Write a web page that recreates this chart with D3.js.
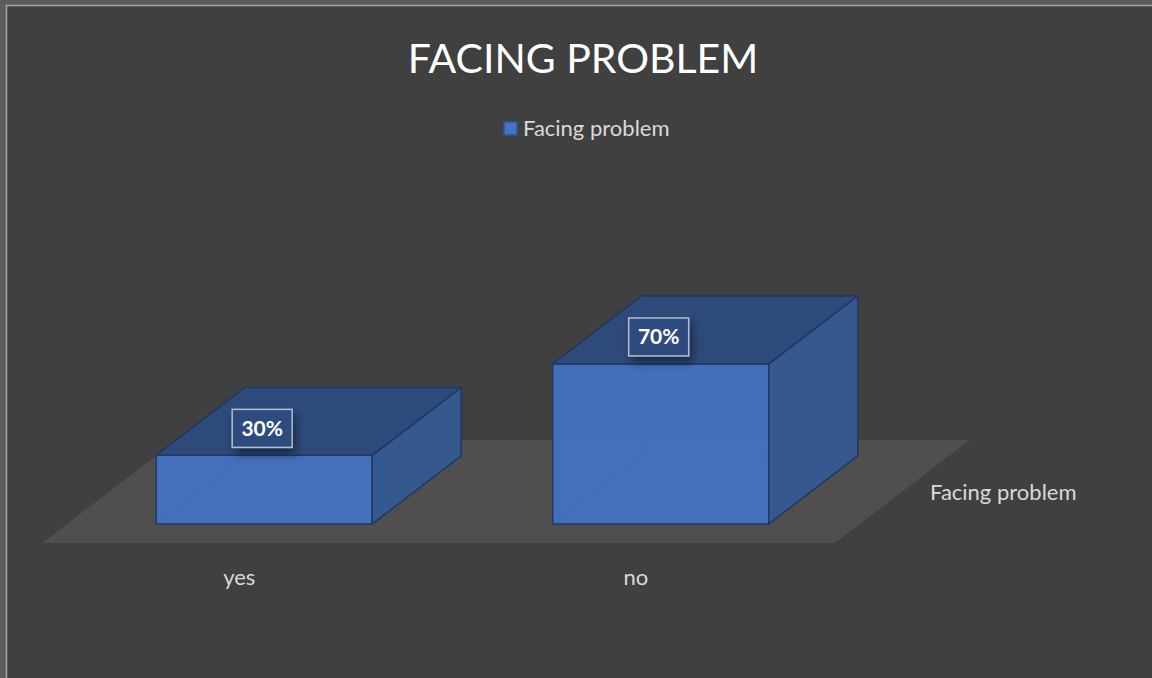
<!DOCTYPE html>
<html>
<head>
<meta charset="utf-8">
<script src="https://cdn.jsdelivr.net/npm/d3@7/dist/d3.min.js"></script>
<style>
  html, body { margin: 0; padding: 0; background: #404040; }
  svg { display: block; }
  text { font-family: Lato, "Open Sans", sans-serif; }
</style>
</head>
<body>
<svg id="chart" width="1152" height="678"></svg>
<script>
// Chart data
const chartTitle = "FACING PROBLEM";
const seriesName = "Facing problem";
const categories = ["yes", "no"];
const values = [30, 70];
const valueLabels = ["30%", "70%"];

const W = 1152, H = 678;
const svg = d3.select("#chart");

// Oblique 3D projection: x along categories, h = bar height, d = depth into the scene
const floorY = 543;          // front edge of the floor
const floorDepth = 103;      // vertical extent of the floor on screen
const skew = 89 / 68;        // horizontal shift per pixel of depth
const proj = (px, h, d) => [px + d * skew, floorY - d - h];

const x = d3.scaleBand()
  .domain(categories)
  .range([41, 834])
  .paddingInner(0.455)
  .paddingOuter(0.2275);

const y = d3.scaleLinear().domain([0, 70]).range([0, 160]);
const z = d3.scaleLinear().domain([0, 1]).range([0, floorDepth]);
const barFront = z(0.185), barBack = z(0.845);

// Outer frame
svg.append("rect").attr("width", W).attr("height", H).attr("fill", "#5c5c5c");
svg.append("rect").attr("x", 6.5).attr("y", 5.5).attr("width", W).attr("height", H)
  .attr("fill", "#404040").attr("stroke", "#a8a8a8").attr("stroke-width", 1.5);

// Shadow used under the value labels
const defs = svg.append("defs");
const f = defs.append("filter").attr("id", "lblShadow")
  .attr("x", "-50%").attr("y", "-50%").attr("width", "200%").attr("height", "200%");
f.append("feDropShadow").attr("dx", 3).attr("dy", 6).attr("stdDeviation", 5)
  .attr("flood-color", "#000").attr("flood-opacity", 0.45);

// Title
svg.append("text")
  .attr("x", 583).attr("y", 73)
  .attr("text-anchor", "middle")
  .attr("fill", "#ffffff")
  .attr("font-size", 41)
  .text(chartTitle);

// Legend
const legend = svg.append("g");
legend.append("rect")
  .attr("x", 504).attr("y", 122).attr("width", 13).attr("height", 13)
  .attr("fill", "#4472c4").attr("stroke", "#2f5597").attr("stroke-width", 1.5);
legend.append("text")
  .attr("x", 523).attr("y", 136)
  .attr("fill", "#d9d9d9").attr("font-size", 22)
  .text(seriesName);

// Floor
const floorPts = [proj(42, 0, 0), proj(835, 0, 0), proj(835, 0, floorDepth), proj(42, 0, floorDepth)];
svg.append("polygon")
  .attr("points", floorPts.map(p => p.join(",")).join(" "))
  .attr("fill", "#504e4e");

// Bars
const line = d3.line();
const bars = svg.append("g");
categories.forEach((c, i) => {
  const x0 = x(c), x1 = x(c) + x.bandwidth();
  const h = y(values[i]);
  const g = bars.append("g");
  const poly = (pts, fill, op) => g.append("path")
    .attr("d", line(pts) + "Z")
    .attr("fill", fill).attr("fill-opacity", op)
    .attr("stroke", "#203864").attr("stroke-width", 1.5)
    .attr("stroke-linejoin", "round");

  // front face
  poly([proj(x0, 0, barFront), proj(x1, 0, barFront), proj(x1, h, barFront), proj(x0, h, barFront)], "#4472c4", 0.93);

  // hidden back edges, faintly visible through the front face
  const back = [proj(x0, 0, barFront), proj(x0, 0, barBack), proj(x1, 0, barBack)];
  g.append("path").attr("d", line(back)).attr("fill", "none")
    .attr("stroke", "#3a65b0").attr("stroke-width", 1).attr("stroke-opacity", 0.35);
  g.append("path").attr("d", line([proj(x0, 0, barBack), proj(x0, h, barBack)]))
    .attr("fill", "none").attr("stroke", "#3a65b0").attr("stroke-width", 1).attr("stroke-opacity", 0.35);

  // right side
  poly([proj(x1, 0, barFront), proj(x1, 0, barBack), proj(x1, h, barBack), proj(x1, h, barFront)], "#35588f", 1);
  // top
  poly([proj(x0, h, barFront), proj(x1, h, barFront), proj(x1, h, barBack), proj(x0, h, barBack)], "#2e4a7b", 1);
});

// Value labels
categories.forEach((c, i) => {
  const [fx, fy] = proj(x(c) + x.bandwidth() / 2, y(values[i]), barFront);
  const cx = fx - 2, cy = fy - 27;
  const g = svg.append("g");
  g.append("rect")
    .attr("x", cx - 30).attr("y", cy - 19).attr("width", 60).attr("height", 38)
    .attr("fill", "#2f4b7e").attr("stroke", "#b3bdd0").attr("stroke-width", 1.5)
    .attr("filter", "url(#lblShadow)");
  g.append("text")
    .attr("x", cx).attr("y", cy + 7.5)
    .attr("text-anchor", "middle")
    .attr("fill", "#ffffff").attr("font-weight", "bold").attr("font-size", 21)
    .text(valueLabels[i]);
});

// Category labels along the floor front
svg.append("g").selectAll("text").data(categories).join("text")
  .attr("x", d => x(d) + x.bandwidth() / 2)
  .attr("y", 585)
  .attr("text-anchor", "middle")
  .attr("fill", "#d9d9d9").attr("font-size", 22)
  .text(d => d);

// Series (depth) axis label
svg.append("text")
  .attr("x", 930).attr("y", 500)
  .attr("fill", "#d9d9d9").attr("font-size", 22)
  .text(seriesName);
</script>
</body>
</html>
